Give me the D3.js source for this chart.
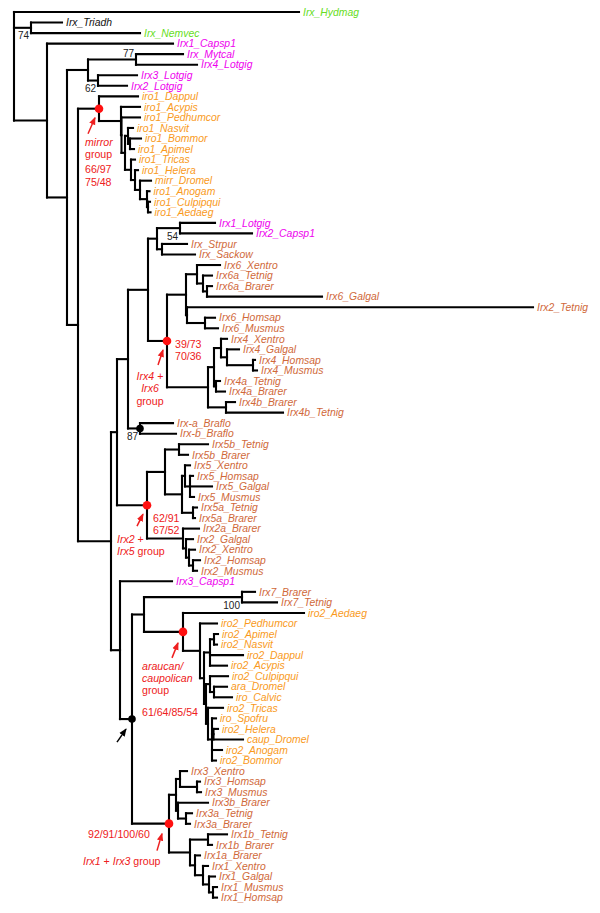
<!DOCTYPE html>
<html><head><meta charset="utf-8">
<script src="https://cdn.jsdelivr.net/npm/d3@7"></script>
<style>body{margin:0;background:#fff}svg{display:block}</style>
</head><body>
<svg id="chart" width="600" height="913"></svg>
<script>
// ---- DATA: [node, parent, distance from root] ----
const treeTop = [
 ["root","",0],
 ["Irx_Hydmag","root",0.285],
 ["TN","root",0.017],["Irx_Triadh","TN",0.048],["Irx_Nemvec","TN",0.126],
 ["A","root",0.033],["Irx1_Capsp1","A",0.159],
 ["B","A",0.053],
 ["LOT","B",0.074],["N77","LOT",0.122],["Irx_Mytcal","N77",0.169],["Irx4_Lotgig","N77",0.183],
 ["N62","LOT",0.084],["Irx3_Lotgig","N62",0.123],["Irx2_Lotgig","N62",0.113],
 ["C","B",0.064]
];
const treeMirror = [
 ["MIR","C",0.085],["iro1_Dappul","MIR",0.124],["M1","MIR",0.107],["iro1_Acypis","M1",0.126],
 ["M1b","M1",0.1075],["iro1_Pedhumcor","M1b",0.126],["M2","M1b",0.111],
 ["HYM","M2",0.114],["iro1_Nasvit","HYM",0.119],["HB","HYM",0.116],["iro1_Bommor","HB",0.127],["iro1_Apimel","HB",0.120],
 ["M3","M2",0.117],["iro1_Tricas","M3",0.121],["M4","M3",0.121],["iro1_Helera","M4",0.124],
 ["DIP","M4",0.126],["mirr_Dromel","DIP",0.137],["MOS","DIP",0.133],["iro1_Anogam","MOS",0.1355],
 ["CA","MOS",0.134],["iro1_Culpipqui","CA",0.136],["iro1_Aedaeg","CA",0.1365]
];
const treeIrx46 = [
 ["D","C",0.097],["E","D",0.103],["G","E",0.114],["H","G",0.134],
 ["N157","H",0.143],["LC","N157",0.166],["Irx1_Lotgig","LC",0.201],["Irx2_Capsp1","LC",0.238],
 ["SS","N157",0.148],["Irx_Strpur","SS",0.173],["Irx_Sackow","SS",0.181],
 ["R46","H",0.153],["I6","R46",0.172],["N6a","I6",0.183],["Irx6_Xentro","N6a",0.206],
 ["N6b","N6a",0.189],["Irx6a_Tetnig","N6b",0.198],["N6c","N6b",0.193],["Irx6a_Brarer","N6c",0.198],["Irx6_Galgal","N6c",0.308],
 ["N6x","I6",0.173],["Irx2_Tetnig","N6x",0.519],["N6hm","N6x",0.191],["Irx6_Homsap","N6hm",0.201],["Irx6_Musmus","N6hm",0.204],
 ["I4","R46",0.194],["N4ta","I4",0.200],["N4tet","N4ta",0.207],["Irx4_Xentro","N4tet",0.213],
 ["N4gh","N4tet",0.213],["Irx4_Galgal","N4gh",0.225],["N4hm","N4gh",0.239],["Irx4_Homsap","N4hm",0.241],["Irx4_Musmus","N4hm",0.243],
 ["N4a","N4ta",0.202],["Irx4a_Tetnig","N4a",0.206],["Irx4a_Brarer","N4a",0.211],
 ["N4b","I4",0.212],["Irx4b_Brarer","N4b",0.221],["Irx4b_Tetnig","N4b",0.269],
 ["B87","G",0.126],["Irx-a_Braflo","B87",0.159],["Irx-b_Braflo","B87",0.162]
];
const treeIrx25 = [
 ["R25","E",0.133],["I5","R25",0.151],["I5b","I5",0.165],["Irx5b_Tetnig","I5b",0.194],["Irx5b_Brarer","I5b",0.174],
 ["I5r","I5",0.168],["T5","I5r",0.171],["Irx5_Xentro","T5",0.176],["T5b","T5",0.176],
 ["Irx5_Homsap","T5b",0.179],["Irx5_Galgal","T5b",0.198],["Irx5_Musmus","T5b",0.180],
 ["I5a","I5r",0.179],["Irx5a_Tetnig","I5a",0.183],["Irx5a_Brarer","I5a",0.181],
 ["I2","R25",0.169],["Irx2a_Brarer","I2",0.185],["T2","I2",0.172],["Irx2_Galgal","T2",0.179],
 ["T2b","T2",0.175],["Irx2_Xentro","T2b",0.181],["HM2","T2b",0.179],["Irx2_Homsap","HM2",0.186],["Irx2_Musmus","HM2",0.183]
];
const treeAra = [
 ["F","D",0.106],["Irx3_Capsp1","F",0.158],["BLK","F",0.118],["N144","BLK",0.130],
 ["I7","N144",0.228],["Irx7_Brarer","I7",0.241],["Irx7_Tetnig","I7",0.263],
 ["ARA","N144",0.169],["iro2_Aedaeg","ARA",0.290],["A1","ARA",0.186],["iro2_Pedhumcor","A1",0.203],
 ["A2","A1",0.190],["A3","A2",0.196],["AN","A3",0.200],["iro2_Apimel","AN",0.204],["iro2_Nasvit","AN",0.203],
 ["iro2_Dappul","A3",0.229],["iro2_Acypis","A3",0.213],
 ["A4","A2",0.192],["D1","A4",0.196],["iro2_Culpipqui","D1",0.214],["D1b","D1",0.200],
 ["ara_Dromel","D1b",0.213],["iro_Calvic","D1b",0.218],
 ["D2","A4",0.194],["iro2_Tricas","D2",0.209],["D3","D2",0.198],["iro_Spofru","D3",0.202],
 ["D4","D3",0.1995],["iro2_Helera","D4",0.204],["caup_Dromel","D4",0.229],
 ["iro2_Anogam","D3",0.208],["iro2_Bommor","D3",0.202]
];
const treeIrx13 = [
 ["R13","BLK",0.155],["I3","R13",0.162],["I3t","I3",0.166],["Irx3_Xentro","I3t",0.173],
 ["HM3","I3t",0.183],["Irx3_Homsap","HM3",0.186],["Irx3_Musmus","HM3",0.187],
 ["I3b","I3",0.164],["Irx3b_Brarer","I3b",0.194],["I3a","I3b",0.172],["Irx3a_Tetnig","I3a",0.178],["Irx3a_Brarer","I3a",0.176],
 ["I1","R13",0.176],["I1b","I1",0.194],["Irx1b_Tetnig","I1b",0.213],["Irx1b_Brarer","I1b",0.198],
 ["J1","I1",0.181],["Irx1a_Brarer","J1",0.186],["J2","J1",0.189],["Irx1_Xentro","J2",0.194],
 ["J3","J2",0.195],["Irx1_Galgal","J3",0.201],["J4","J3",0.199],["Irx1_Musmus","J4",0.203],["Irx1_Homsap","J4",0.203]
];
const greenLeaves = ["Irx_Hydmag","Irx_Nemvec"];
const blackLeaves = ["Irx_Triadh"];
const magentaLeaves = ["Irx1_Capsp1","Irx_Mytcal","Irx4_Lotgig","Irx3_Lotgig","Irx2_Lotgig","Irx1_Lotgig","Irx2_Capsp1","Irx3_Capsp1"];
const insectPrefixes = ["iro","mirr","ara_","caup"];
const bootstrap = [["TN","74"],["N77","77"],["N62","62"],["LC","54"],["B87","87"],["I7","100"]];
const redNodes = ["MIR","R46","R25","ARA","R13"];
const blackNodes = ["B87","BLK"];

// ---- DRAW ----
const FONT = "'Liberation Sans', Arial, Helvetica, sans-serif";
const RED = "#ee2020";
const colors = {green:"#66dd22", black:"#111", magenta:"#ee00ee", orange:"#f99a1c", brown:"#d0693a"};
function leafColor(n){
  if (greenLeaves.includes(n)) return colors.green;
  if (blackLeaves.includes(n)) return colors.black;
  if (magentaLeaves.includes(n)) return colors.magenta;
  if (insectPrefixes.some(p => n.startsWith(p))) return colors.orange;
  return colors.brown;
}
const rows = [].concat(treeTop, treeMirror, treeIrx46, treeIrx25, treeAra, treeIrx13);
const root = d3.stratify().id(d => d[0]).parentId(d => d[1] || null)(rows);
const leaves = root.leaves();
const x = d3.scaleLinear().domain([0, 0.52]).range([14, 534]);
const y = d3.scalePoint().domain(leaves.map(d => d.id)).range([12, 897.6]);
root.eachAfter(n => {
  n.px = x(n.data[2]);
  n.py = n.children ? (n.children[0].py + n.children[n.children.length-1].py) / 2 : y(n.id);
});
const svg = d3.select("#chart");
const byId = new Map(root.descendants().map(n => [n.id, n]));

const g = svg.append("g").attr("fill","none").attr("stroke","#000").attr("stroke-width",2.1).attr("stroke-linecap","square");
root.descendants().forEach(n => {
  if (n.parent) g.append("path").attr("d", `M${n.parent.px},${n.py}H${n.px}`);
  if (n.children) g.append("path").attr("d", `M${n.px},${n.children[0].py}V${n.children[n.children.length-1].py}`);
});

svg.append("g").selectAll("text").data(leaves).join("text")
  .attr("x", d => d.px + 4).attr("y", d => d.py).attr("dy","0.36em")
  .attr("font-family", FONT).attr("font-size", 10.4).attr("font-style","italic")
  .attr("fill", d => leafColor(d.id)).text(d => d.id);

bootstrap.forEach(([id, t]) => {
  const n = byId.get(id);
  svg.append("text").attr("x", n.px - 2).attr("y", id === "N77" ? n.py - 6 : n.py + 8).attr("dy","0.36em")
    .attr("text-anchor","end").attr("font-family", FONT).attr("font-size", 10).attr("fill","#222").text(t);
});

redNodes.forEach(id => { const n = byId.get(id); svg.append("circle").attr("cx", n.px).attr("cy", n.py).attr("r", 4.3).attr("fill", "#ff1010"); });
blackNodes.forEach(id => { const n = byId.get(id); svg.append("circle").attr("cx", n.px).attr("cy", n.py).attr("r", 3.8).attr("fill", "#000"); });

// arrow markers
const defs = svg.append("defs");
[["ahR", RED],["ahK","#000"]].forEach(([mid, c]) => {
  defs.append("marker").attr("id", mid).attr("viewBox","0 -4 8 8").attr("refX",7).attr("refY",0)
    .attr("markerWidth",8).attr("markerHeight",8).attr("markerUnits","userSpaceOnUse").attr("orient","auto")
    .append("path").attr("d","M0,-3.2L8,0L0,3.2Z").attr("fill", c);
});
function arrow(id, dx0, dy0, dx1, dy1, c){
  const n = byId.get(id);
  svg.append("line").attr("x1", n.px+dx0).attr("y1", n.py+dy0).attr("x2", n.px+dx1).attr("y2", n.py+dy1)
    .attr("stroke", c === "k" ? "#000" : RED).attr("stroke-width", 1.5)
    .attr("marker-end", c === "k" ? "url(#ahK)" : "url(#ahR)");
}
function note(id, dx, dy, parts, anchor){
  const n = byId.get(id);
  const t = svg.append("text").attr("x", n.px+dx).attr("y", n.py+dy).attr("dy","0.36em")
    .attr("font-family", FONT).attr("font-size", 10.6).attr("fill", RED).attr("text-anchor", anchor || "start");
  parts.forEach(([s, it]) => t.append("tspan").attr("font-style", it ? "italic" : "normal").text(s));
}
// mirror group
arrow("MIR", -11, 25, -4, 9);
note("MIR", -14, 34, [["mirror",1]]);
note("MIR", -14, 46, [["group",0]]);
note("MIR", -14, 61, [["66/97",0]]);
note("MIR", -14, 74, [["75/48",0]]);
// Irx4 + Irx6
note("R46", 8, 3, [["39/73",0]]);
note("R46", 8, 15, [["70/36",0]]);
arrow("R46", -9, 24, -4, 9);
note("R46", -17, 35, [["Irx4",1],[" +",0]], "middle");
note("R46", -17, 47, [["Irx6",1]], "middle");
note("R46", -17, 60, [["group",0]], "middle");
// Irx2 + Irx5
note("R25", 6, 13, [["62/91",0]]);
note("R25", 6, 25, [["67/52",0]]);
arrow("R25", -10, 21, -4, 9);
note("R25", -30, 34, [["Irx2",1],[" +",0]]);
note("R25", -30, 46, [["Irx5",1],[" group",0]]);
// araucan / caupolican
arrow("ARA", -11, 26, -5, 11);
note("ARA", -41, 34, [["araucan/",1]]);
note("ARA", -41, 46, [["caupolican",1]]);
note("ARA", -41, 58, [["group",0]]);
note("ARA", -41, 80, [["61/64/85/54",0]]);
// black node arrow
arrow("BLK", -15, 23, -6, 10, "k");
// Irx1 + Irx3
note("R13", -81, 11, [["92/91/100/60",0]]);
arrow("R13", -12, 27, -7, 10);
note("R13", -86, 38, [["Irx1",1],[" + ",0],["Irx3",1],[" group",0]]);
</script>
</body></html>
